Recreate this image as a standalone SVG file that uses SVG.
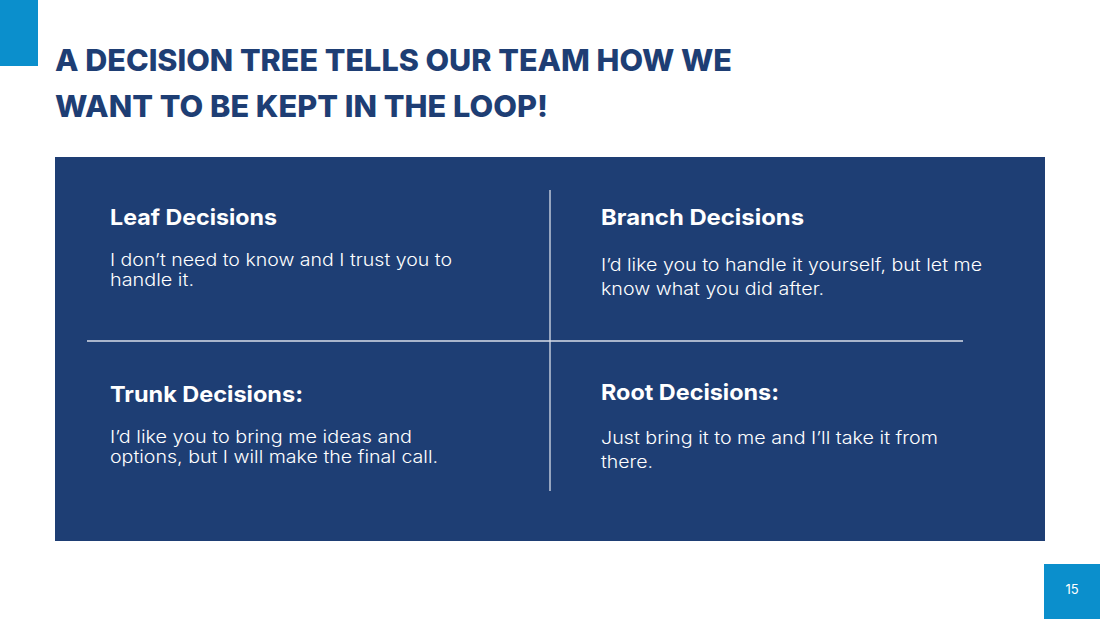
<svg xmlns="http://www.w3.org/2000/svg" width="1100" height="619" viewBox="0 0 1100 619">
<style>
.title{font-family:Inter,"Noto Sans",sans-serif;font-weight:800;font-size:30px;fill:#1E3E74}
.head{font-family:Inter,"Noto Sans",sans-serif;font-weight:700;font-size:22px;fill:#FFFFFF}
.body{font-family:Inter,"Noto Sans",sans-serif;font-weight:300;font-size:17px;fill:#FFFFFF}
.div{stroke:#D9DEE8;stroke-width:1.3;fill:none}
</style>
<rect width="1100" height="619" fill="#FFFFFF"/>
<rect id="accent" x="0" y="0" width="38" height="66" fill="#0B8FCC"/>
<g id="title">
<text class="title" x="55" y="71" textLength="677" lengthAdjust="spacingAndGlyphs">A DECISION TREE TELLS OUR TEAM HOW WE</text>
<text class="title" x="55" y="117" textLength="493" lengthAdjust="spacingAndGlyphs">WANT TO BE KEPT IN THE LOOP!</text>
</g>
<rect id="panel" x="55" y="157" width="990" height="384" fill="#1E3E74"/>
<g id="connectors">
<line class="div" x1="550" y1="190" x2="550" y2="491"/>
<line class="div" x1="87" y1="341" x2="963" y2="341"/>
</g>
<g id="leaf">
<text class="head" x="110" y="225" textLength="167" lengthAdjust="spacingAndGlyphs">Leaf Decisions</text>
<text class="body" x="110" y="266" textLength="342" lengthAdjust="spacingAndGlyphs">I don’t need to know and I trust you to</text>
<text class="body" x="110" y="286" textLength="84" lengthAdjust="spacingAndGlyphs">handle it.</text>
</g>
<g id="branch">
<text class="head" x="601" y="225" textLength="203" lengthAdjust="spacingAndGlyphs">Branch Decisions</text>
<text class="body" x="601" y="271" textLength="381" lengthAdjust="spacingAndGlyphs">I’d like you to handle it yourself, but let me</text>
<text class="body" x="601" y="295" textLength="223" lengthAdjust="spacingAndGlyphs">know what you did after.</text>
</g>
<g id="trunk">
<text class="head" x="110" y="402" textLength="193" lengthAdjust="spacingAndGlyphs">Trunk Decisions:</text>
<text class="body" x="110" y="443" textLength="302" lengthAdjust="spacingAndGlyphs">I’d like you to bring me ideas and</text>
<text class="body" x="110" y="463" textLength="328" lengthAdjust="spacingAndGlyphs">options, but I will make the final call.</text>
</g>
<g id="root">
<text class="head" x="601" y="400" textLength="178" lengthAdjust="spacingAndGlyphs">Root Decisions:</text>
<text class="body" x="601" y="444" textLength="337" lengthAdjust="spacingAndGlyphs">Just bring it to me and I’ll take it from</text>
<text class="body" x="601" y="468" textLength="52" lengthAdjust="spacingAndGlyphs">there.</text>
</g>
<g id="page">
<rect x="1044" y="564" width="56" height="55" fill="#0B8FCC"/>
<text x="1072" y="594" text-anchor="middle" font-family="Inter,'Noto Sans',sans-serif" font-size="13" fill="#FFFFFF">15</text>
</g>
</svg>
